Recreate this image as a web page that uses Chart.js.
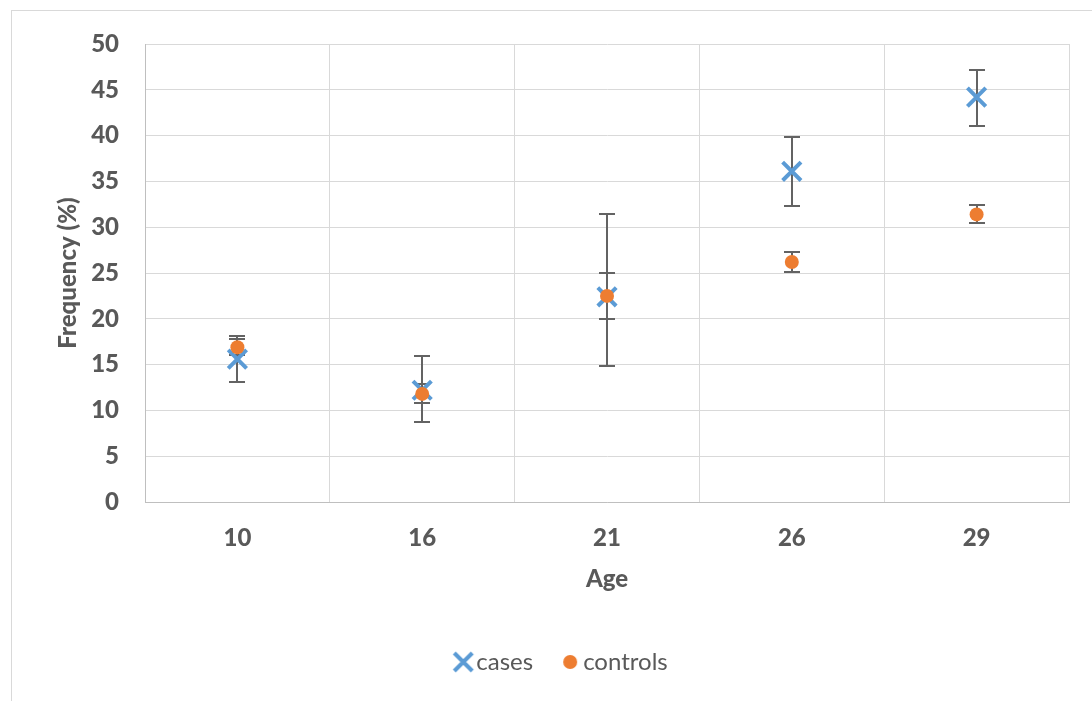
<!DOCTYPE html>
<html>
<head>
<meta charset="utf-8">
<script src="https://cdn.jsdelivr.net/npm/chart.js@4"></script>
<style>
  html, body { margin:0; padding:0; background:#ffffff; }
  #wrap { position:relative; width:1092px; height:701px; }
  #frame { position:absolute; left:11px; top:10px; right:-2px; bottom:-2px;
           border:1px solid #d9d9d9; pointer-events:none; }
  canvas { position:absolute; left:0; top:0; }
</style>
</head>
<body>
<div id="wrap">
  <canvas id="chart" width="1092" height="701"></canvas>
  <div id="frame"></div>
</div>
<script>
// --- data ---
const ages = ['10', '16', '21', '26', '29'];
const cases = [15.6, 12.2, 22.4, 36.1, 44.2];
const casesUpper = [18.1, 15.9, 31.4, 39.9, 47.2];
const casesLower = [13.1, 8.7, 14.9, 32.3, 41.0];
const controls = [16.9, 11.8, 22.5, 26.2, 31.4];
const controlsUpper = [17.8, 12.9, 25.0, 27.3, 32.4];
const controlsLower = [16.0, 10.8, 20.0, 25.1, 30.5];
const yTicks = [0, 5, 10, 15, 20, 25, 30, 35, 40, 45, 50];

const BLUE = '#5b9bd5';
const ORANGE = '#ed7d31';
const TEXT = '#595959';
const FONT = 'Lato, "Open Sans", sans-serif';

// small legend icons
function crossIcon() {
  const c = document.createElement('canvas');
  c.width = 24; c.height = 24;
  const g = c.getContext('2d');
  g.strokeStyle = BLUE; g.lineWidth = 4;
  g.beginPath();
  g.moveTo(3, 3); g.lineTo(21, 21);
  g.moveTo(21, 3); g.lineTo(3, 21);
  g.stroke();
  return c;
}
function dotIcon() {
  const c = document.createElement('canvas');
  c.width = 16; c.height = 16;
  const g = c.getContext('2d');
  g.fillStyle = ORANGE;
  g.beginPath(); g.arc(8, 8, 7, 0, Math.PI * 2); g.fill();
  return c;
}
const legendIcons = [crossIcon(), dotIcon()];

const bounds = [
  { upper: casesUpper, lower: casesLower },
  { upper: controlsUpper, lower: controlsLower },
];

const errorBars = {
  id: 'errorBars',
  beforeDatasetsDraw(chart) {
    const ctx = chart.ctx;
    const y = chart.scales.y;
    ctx.save();
    ctx.strokeStyle = '#636363';
    ctx.lineWidth = 2;
    bounds.forEach((b, di) => {
      const meta = chart.getDatasetMeta(di);
      meta.data.forEach((pt, i) => {
        const x = Math.round(pt.x);
        const yt = Math.round(y.getPixelForValue(b.upper[i]));
        const yb = Math.round(y.getPixelForValue(b.lower[i]));
        ctx.beginPath();
        ctx.moveTo(x, yt); ctx.lineTo(x, yb);
        ctx.moveTo(x - 8, yt); ctx.lineTo(x + 8, yt);
        ctx.moveTo(x - 8, yb); ctx.lineTo(x + 8, yb);
        ctx.stroke();
      });
    });
    ctx.restore();
  }
};

new Chart(document.getElementById('chart'), {
  type: 'line',
  data: {
    labels: ages,
    datasets: [
      { label: 'cases', data: cases, showLine: false, order: 1,
        pointStyle: 'crossRot', pointRadius: 13, pointHoverRadius: 13,
        borderColor: BLUE, backgroundColor: BLUE, pointBorderWidth: 4 },
      { label: 'controls', data: controls, showLine: false, order: 0,
        pointStyle: 'circle', pointRadius: 7, pointHoverRadius: 7,
        borderColor: ORANGE, backgroundColor: ORANGE, pointBorderWidth: 0 },
    ],
  },
  plugins: [errorBars],
  options: {
    responsive: false,
    animation: false,
    layout: { padding: { left: 61, right: 23, top: 44, bottom: 17 } },
    plugins: {
      tooltip: { enabled: false },
      legend: {
        position: 'bottom',
        labels: {
          usePointStyle: true,
          pointStyleWidth: 2,
          padding: 36,
          color: TEXT,
          font: { family: FONT, size: 24 },
          sort: (a, b) => a.datasetIndex - b.datasetIndex,
          generateLabels: (chart) => chart.data.datasets.map((ds, i) => ({
            text: ds.label,
            pointStyle: legendIcons[i],
            fillStyle: ds.backgroundColor,
            strokeStyle: ds.borderColor,
            lineWidth: 0,
            fontColor: TEXT,
            datasetIndex: i,
            hidden: false,
          })),
        },
      },
    },
    scales: {
      x: {
        type: 'category',
        offset: true,
        grid: { offset: true, color: '#d9d9d9', lineWidth: 1, drawTicks: false },
        border: { color: '#bfbfbf', width: 1 },
        ticks: { color: TEXT, padding: 22, font: { family: FONT, size: 24, weight: 900 } },
        title: { display: true, text: 'Age', color: TEXT, padding: { top: 0, bottom: 20 },
                 font: { family: FONT, size: 24, weight: 900 } },
        afterFit: (s) => { s.height = 112; },
      },
      y: {
        min: 0, max: 50,
        afterBuildTicks: (s) => { s.ticks = yTicks.map(v => ({ value: v })); },
        grid: { color: '#d9d9d9', lineWidth: 1, drawTicks: false },
        border: { color: '#bfbfbf', width: 1 },
        ticks: { color: TEXT, padding: 26, font: { family: FONT, size: 24, weight: 900 } },
        title: { display: true, text: 'Frequency (%)', color: TEXT, padding: { top: -7, bottom: 0 },
                 font: { family: FONT, size: 24, weight: 900 } },
        afterFit: (s) => { s.width = 84; },
      },
    },
  },
});
</script>
</body>
</html>
